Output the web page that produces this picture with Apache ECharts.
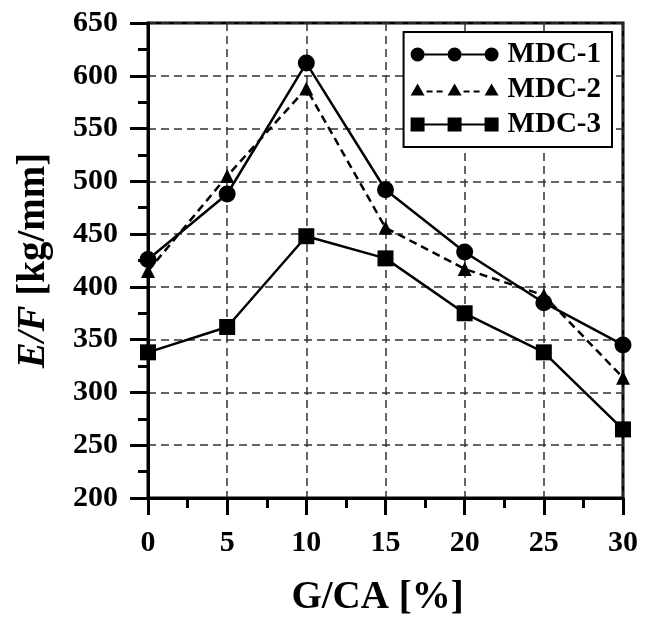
<!DOCTYPE html>
<html>
<head>
<meta charset="utf-8">
<script src="https://cdn.jsdelivr.net/npm/echarts@6/dist/echarts.min.js"></script>
<style>html,body{margin:0;padding:0;background:#fff}#c{width:652px;height:617px}</style>
</head>
<body>
<div id="c"></div>
<script>
var xValues = [0, 5, 10, 15, 20, 25, 30];
var mdc1 = [426, 488, 612, 492, 433, 385, 345];
var mdc2 = [415, 505, 588, 456, 417, 392, 314];
var mdc3 = [338, 362, 448, 427, 375, 338, 265];
var seriesNames = ['MDC-1', 'MDC-2', 'MDC-3'];

var FONT = "'Liberation Serif', 'Times New Roman', serif";

function pairs(vals) { return xValues.map(function (x, i) { return [x, vals[i]]; }); }

var iconCircle = 'path://M0 7A7 7 0 1 0 14 7A7 7 0 1 0 0 7Z M37 7A7 7 0 1 0 51 7A7 7 0 1 0 37 7Z M74 7A7 7 0 1 0 88 7A7 7 0 1 0 74 7Z M14 6L37 6L37 8L14 8Z M51 6L74 6L74 8L51 8Z';
var iconTri = 'path://M0 13L7 1L14 13Z M37 13L44 1L51 13Z M74 13L81 1L88 13Z M16 8L22 8L22 10L16 10Z M26 8L32 8L32 10L26 10Z M53 8L59 8L59 10L53 10Z M63 8L69 8L69 10L63 10Z';
var iconSq = 'path://M0 0L14 0L14 14L0 14Z M37 0L51 0L51 14L37 14Z M74 0L88 0L88 14L74 14Z M14 6L37 6L37 8L14 8Z M51 6L74 6L74 8L51 8Z';

var chart = echarts.init(document.getElementById('c'), null, {renderer: 'canvas'});
chart.setOption({
  animation: false,
  backgroundColor: '#fff',
  textStyle: {fontFamily: FONT, fontWeight: 'bold', color: '#000'},
  grid: {left: 148, top: 23, right: 29, bottom: 119, show: true, borderColor: '#000', borderWidth: 3,
         backgroundColor: 'transparent', containLabel: false, outerBoundsMode: 'none'},
  legend: {
    right: 40, top: 32, orient: 'vertical',
    backgroundColor: '#fff', borderColor: '#000', borderWidth: 2,
    padding: [8, 11, 8, 7], itemGap: 6,
    itemWidth: 88, itemHeight: 14,
    textStyle: {fontFamily: FONT, fontWeight: 'bold', fontSize: 29, color: '#000', padding: [0, 0, 0, 4]},
    data: [
      {name: seriesNames[0], icon: iconCircle},
      {name: seriesNames[1], icon: iconTri},
      {name: seriesNames[2], icon: iconSq}
    ]
  },
  xAxis: {
    type: 'value', min: 0, max: 30, interval: 5,
    name: 'G/CA [%]', nameLocation: 'middle', nameGap: 80,
    nameTextStyle: {fontFamily: FONT, fontWeight: 'bold', fontSize: 39, color: '#000', padding: [0, 16, 0, 0]},
    axisLine: {show: true, lineStyle: {color: '#000', width: 3}},
    axisTick: {show: true, length: 17, lineStyle: {color: '#000', width: 3}},
    minorTick: {show: true, splitNumber: 2, length: 10, lineStyle: {color: '#000', width: 3}},
    axisLabel: {fontFamily: FONT, fontWeight: 'bold', fontSize: 30, color: '#000', margin: 30},
    splitLine: {show: true, lineStyle: {color: '#333', width: 1.5, type: [8, 5]}}
  },
  yAxis: {
    type: 'value', min: 200, max: 650, interval: 50,
    name: '{i|E/F} [kg/mm]', nameLocation: 'middle', nameGap: 95,
    nameTextStyle: {fontFamily: FONT, fontWeight: 'bold', fontSize: 39, color: '#000',
      rich: {i: {fontFamily: FONT, fontWeight: 'bold', fontStyle: 'italic', fontSize: 39, color: '#000'}}},
    axisLine: {show: true, lineStyle: {color: '#000', width: 3}},
    axisTick: {show: true, length: 18, lineStyle: {color: '#000', width: 3}},
    minorTick: {show: true, splitNumber: 2, length: 10, lineStyle: {color: '#000', width: 3}},
    axisLabel: {fontFamily: FONT, fontWeight: 'bold', fontSize: 30, color: '#000', margin: 30},
    splitLine: {show: true, lineStyle: {color: '#333', width: 1.5, type: [8, 5]}}
  },
  series: [
    {name: seriesNames[0], type: 'line', data: pairs(mdc1), symbol: 'circle', symbolSize: 17,
     lineStyle: {color: '#000', width: 2.5}, itemStyle: {color: '#000'}, z: 3},
    {name: seriesNames[1], type: 'line', data: pairs(mdc2), symbol: 'triangle', symbolSize: 14,
     lineStyle: {color: '#000', width: 2.5, type: [8, 5]}, itemStyle: {color: '#000'}, z: 3},
    {name: seriesNames[2], type: 'line', data: pairs(mdc3), symbol: 'rect', symbolSize: 16,
     lineStyle: {color: '#000', width: 2.5}, itemStyle: {color: '#000'}, z: 3}
  ]
});
</script>
</body>
</html>
